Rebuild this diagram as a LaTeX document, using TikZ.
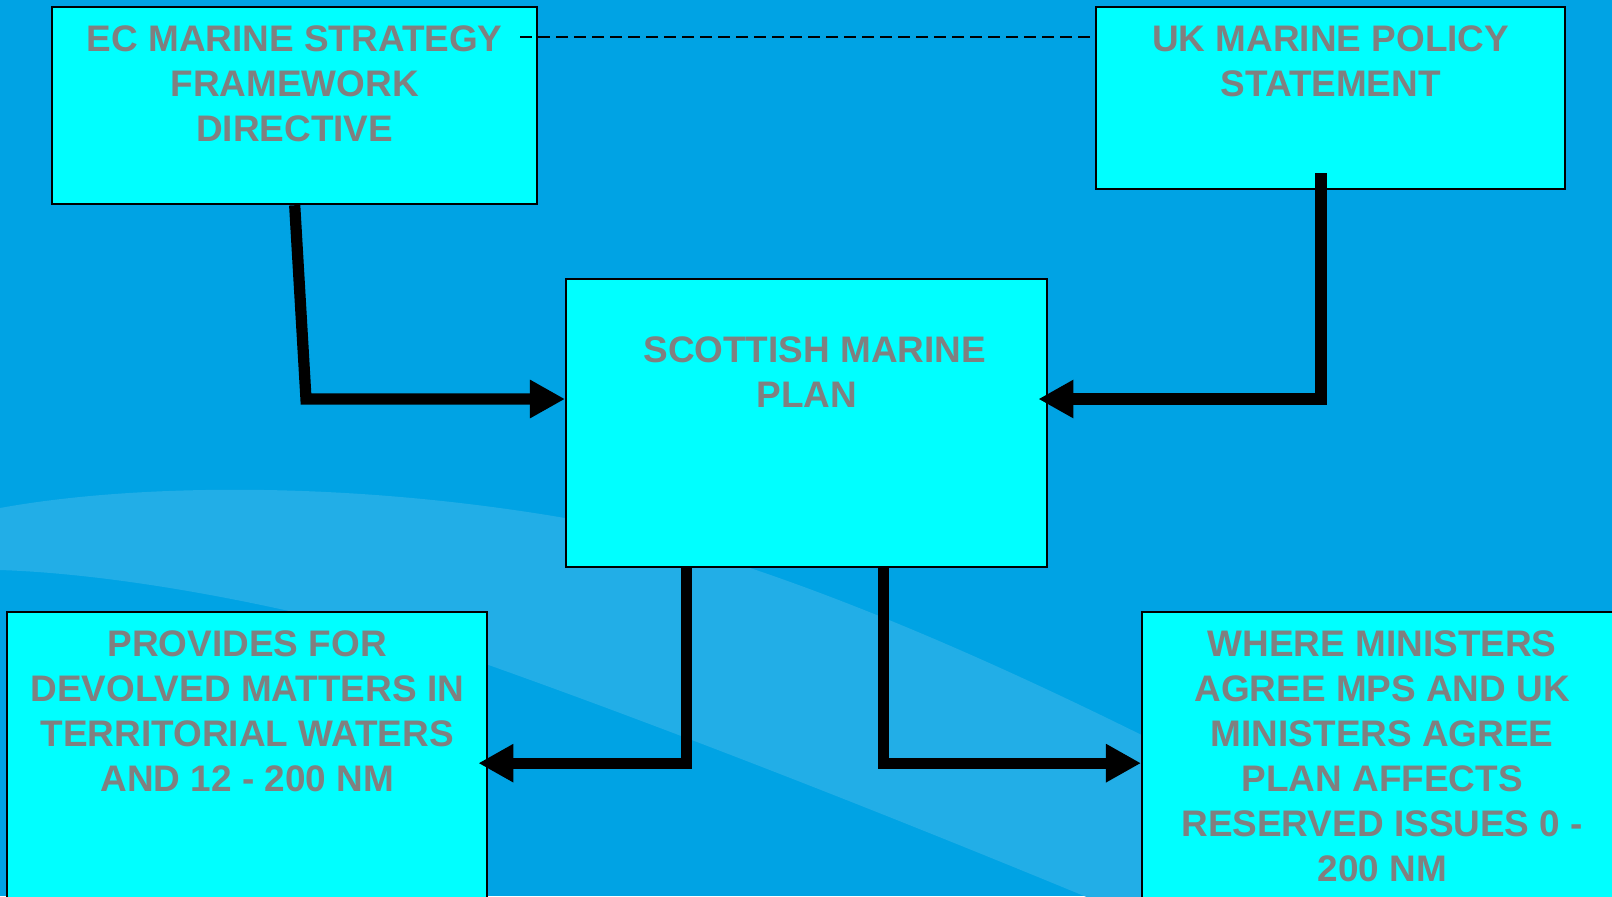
\documentclass[tikz,border=0pt]{standalone}
\usepackage{fontspec}
\setmainfont{Liberation Sans}
\usetikzlibrary{positioning,arrows.meta}

\definecolor{seablue}{RGB}{0,163,228}
\definecolor{swooshblue}{RGB}{34,174,231}
\definecolor{boxcyan}{RGB}{0,255,255}
\definecolor{textgrey}{RGB}{128,128,128}

\tikzset{
  planbox/.style={draw=black, line width=0.6pt, fill=boxcyan, anchor=north west, inner sep=0pt},
  boxtext/.style={inner sep=0pt, align=center, text=textgrey, font=\fontsize{10.5pt}{12.8pt}\selectfont\bfseries},
  flow/.style={line width=3.2pt, -{Triangle[length=0.35cm,width=0.36cm]}},
  dashlink/.style={line width=0.5pt, dash pattern=on 0.12cm off 0.06cm},
}

\begin{document}
\begin{tikzpicture}[x=0.01cm, y=-0.01cm]
  \useasboundingbox (0,0) rectangle (1612,896);
  \clip (0,0) rectangle (1612,896);
  % background with the light swoosh
  \fill[seablue] (0,0) rectangle (1612,896);
  \fill[swooshblue] (0,508) .. controls (120,486) and (330,478) .. (565,518)
    .. controls (760,555) and (1000,660) .. (1250,790) -- (1700,1050) -- (1130,915)
    .. controls (950,840) and (700,740) .. (483,663)
    .. controls (350,620) and (150,575) .. (0,570) -- cycle;

  % boxes
  \node[planbox, minimum width=4.85cm, minimum height=1.97cm] (ec) at (51,6) {};
  \node[planbox, minimum width=4.69cm, minimum height=1.82cm] (uk) at (1095,6) {};
  \node[planbox, minimum width=4.81cm, minimum height=2.88cm] (scot) at (565,278) {};
  \node[planbox, minimum width=4.80cm, minimum height=3.02cm] (dev) at (6,611) {};
  \node[planbox, minimum width=4.80cm, minimum height=3.02cm] (res) at (1141,611) {};

  \node[boxtext, below=0.19cm of ec.north] (ectext) {EC MARINE STRATEGY\\FRAMEWORK\\DIRECTIVE};
  \node[boxtext, below=0.19cm of uk.north] (uktext) {UK MARINE POLICY\\STATEMENT};
  \node[boxtext, below=0.58cm of scot.north] (scottext) {\hspace*{0.16cm}SCOTTISH MARINE\\PLAN};
  \node[boxtext, below=0.19cm of dev.north] (devtext) {PROVIDES FOR\\DEVOLVED MATTERS IN\\TERRITORIAL WATERS\\AND 12 - 200 NM};
  \node[boxtext, below=0.19cm of res.north] (restext) {WHERE MINISTERS\\AGREE MPS AND UK\\MINISTERS AGREE\\PLAN AFFECTS\\RESERVED ISSUES 0 -\\200 NM};

  % connectors
  \coordinate (ecbend) at (306,399);
  \coordinate (ukfoot) at (1321,173);
  \coordinate (ukbend) at (1321,399);
  \coordinate (dashstart) at (520,37);
  \draw[dashlink] (dashstart) -- (uk.west |- dashstart);
  \draw[flow] (ec.south) -- (ecbend) -- (scot.west |- ecbend);
  \draw[flow, shorten >=-0.1cm] (ukfoot) -- (ukbend) -- (scot.east |- ukbend);
  \draw[flow, shorten >=-0.1cm] ([xshift=-1.2cm]scot.south) |- (dev.east);
  \draw[flow] ([xshift=0.77cm]scot.south) |- (res.west);
\end{tikzpicture}
\end{document}
